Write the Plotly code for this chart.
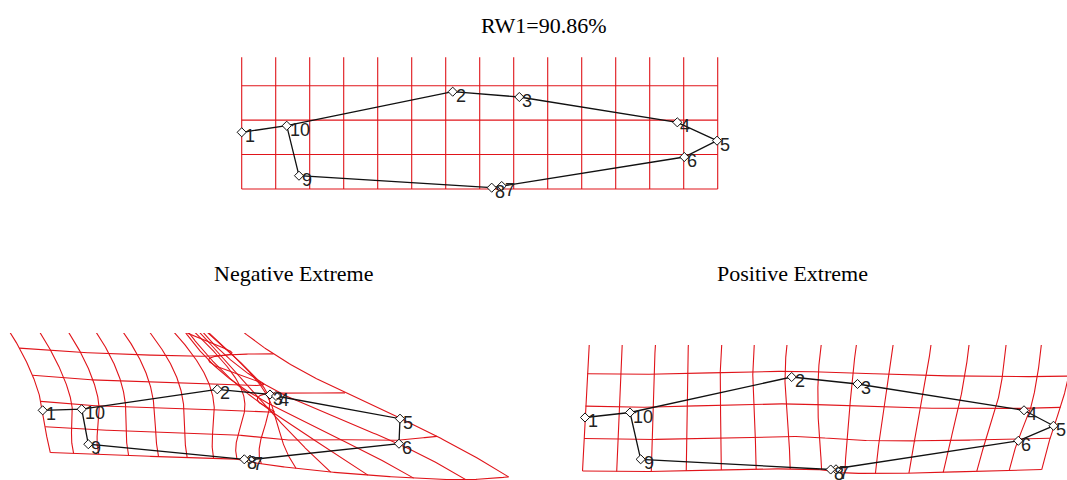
import numpy as np
import plotly.graph_objects as go

# ---------------- data (landmarks 1..10, grid-cell units, y up) ----------------
landmark_labels = ["1", "2", "3", "4", "5", "6", "7", "8", "9", "10"]

mean_x = [0.000, 6.206, 8.165, 12.812, 13.980, 13.018, 7.647, 7.353, 1.685, 1.324]
mean_y = [1.647, 2.826, 2.672, 1.937, 1.403, 0.929, 0.087, 0.038, 0.386, 1.838]

neg_x = [0.000, 5.135, 6.685, 6.862, 10.509, 10.479, 6.097, 5.929, 1.341, 1.147]
neg_y = [1.443, 2.053, 1.902, 1.859, 1.200, 0.473, 0.009, 0.020, 0.459, 1.475]

pos_x = [0.000, 6.079, 8.015, 12.912, 13.779, 12.744, 7.382, 7.226, 1.638, 1.324]
pos_y = [1.621, 2.797, 2.594, 1.830, 1.380, 0.944, 0.116, 0.110, 0.407, 1.766]

# outline links (landmark numbers)
outline_order = [1, 10, 2, 3, 4, 5, 6, 7, 8, 9, 10]

# reference grid on the consensus
grid_cols = list(range(0, 15))      # vertical lines x = 0..14
grid_rows = list(range(0, 6))       # horizontal lines y = 0..5

title_text = "RW1=90.86%"
panel_titles = ["Negative Extreme", "Positive Extreme"]

# ---------------- thin-plate spline ----------------
def tps_fit(src, dst):
    n = len(src)
    d = np.sqrt(((src[:, None, :] - src[None, :, :]) ** 2).sum(-1))
    with np.errstate(divide="ignore", invalid="ignore"):
        K = np.where(d > 0, d ** 2 * np.log(d ** 2), 0.0)
    P = np.hstack([np.ones((n, 1)), src])
    L = np.zeros((n + 3, n + 3))
    L[:n, :n] = K
    L[:n, n:] = P
    L[n:, :n] = P.T
    rhs = np.zeros((n + 3, 2))
    rhs[:n] = dst
    return np.linalg.solve(L, rhs)


def tps_apply(coef, src, pts):
    n = len(src)
    d = np.sqrt(((pts[:, None, :] - src[None, :, :]) ** 2).sum(-1))
    with np.errstate(divide="ignore", invalid="ignore"):
        U = np.where(d > 0, d ** 2 * np.log(d ** 2), 0.0)
    P = np.hstack([np.ones((len(pts), 1)), pts])
    return U @ coef[:n] + P @ coef[n:]


def grid_polylines(coef, src):
    xs, ys = [], []
    ymax = max(grid_rows)
    xmin, xmax = min(grid_cols), max(grid_cols)
    for c in grid_cols:
        t = np.linspace(0, ymax, 200)
        pts = np.column_stack([np.full_like(t, c), t])
        out = pts if coef is None else tps_apply(coef, src, pts)
        xs += list(out[:, 0]) + [None]
        ys += list(out[:, 1]) + [None]
    for r in grid_rows:
        t = np.linspace(xmin, xmax, 500)
        pts = np.column_stack([t, np.full_like(t, r)])
        out = pts if coef is None else tps_apply(coef, src, pts)
        xs += list(out[:, 0]) + [None]
        ys += list(out[:, 1]) + [None]
    return xs, ys

# ---------------- layout helpers ----------------
W, H = 1067, 480
SX, SY = 34.0, 34.43


def axes_for(box, origin):
    x0, x1, y0, y1 = box
    ox, oy = origin
    return dict(
        xdom=[x0 / W, x1 / W], ydom=[(H - y1) / H, (H - y0) / H],
        xr=[(x0 - ox) / SX, (x1 - ox) / SX], yr=[(oy - y1) / SY, (oy - y0) / SY],
    )

panels = [
    dict(x=mean_x, y=mean_y, ax=axes_for((200, 760, 57.3, 205), (241.7, 189.0)), warp=False),
    dict(x=neg_x, y=neg_y, ax=axes_for((0, 540, 333, 480), (42.7, 460.0)), warp=True),
    dict(x=pos_x, y=pos_y, ax=axes_for((560, 1067, 345, 480), (585.0, 473.3)), warp=True),
]

src = np.column_stack([mean_x, mean_y])

fig = go.Figure()
GRID_COLOR = "#e0141a"
label_font = dict(family="Liberation Sans Narrow, Arial Narrow, Liberation Sans, Arial",
                  size=18, color="#222222")

for i, p in enumerate(panels):
    sfx = "" if i == 0 else str(i + 1)
    xref, yref = "x" + sfx, "y" + sfx
    if p["warp"]:
        dst = np.column_stack([p["x"], p["y"]])
        coef = tps_fit(src, dst)
        gx, gy = grid_polylines(coef, src)
    else:
        gx, gy = grid_polylines(None, src)
    fig.add_trace(go.Scatter(x=gx, y=gy, mode="lines", xaxis=xref, yaxis=yref,
                             line=dict(color=GRID_COLOR, width=1.1), hoverinfo="skip",
                             showlegend=False))
    ox = [p["x"][k - 1] for k in outline_order]
    oy = [p["y"][k - 1] for k in outline_order]
    fig.add_trace(go.Scatter(x=ox, y=oy, mode="lines", xaxis=xref, yaxis=yref,
                             line=dict(color="#111111", width=1.3), hoverinfo="skip",
                             showlegend=False))
    fig.add_trace(go.Scatter(x=p["x"], y=p["y"], mode="markers", xaxis=xref, yaxis=yref,
                             marker=dict(symbol="diamond", size=7, color="white",
                                         line=dict(color="#111111", width=1)),
                             showlegend=False, cliponaxis=False))
    for lx, ly, lab in zip(p["x"], p["y"], landmark_labels):
        fig.add_annotation(x=lx, y=ly, xref=xref, yref=yref, text=lab, showarrow=False,
                           xanchor="left", yanchor="middle", xshift=1, yshift=-4,
                           font=label_font)
    a = p["ax"]
    fig.update_layout(**{
        "xaxis" + sfx: dict(domain=a["xdom"], range=a["xr"], visible=False, fixedrange=True,
                            anchor="y" + sfx),
        "yaxis" + sfx: dict(domain=a["ydom"], range=a["yr"], visible=False, fixedrange=True,
                            anchor="x" + sfx),
    })

serif = "Liberation Serif, Times New Roman, serif"
fig.add_annotation(x=543 / W, y=1 - 25 / H, xref="paper", yref="paper", text=title_text,
                   showarrow=False, font=dict(family=serif, size=22, color="black"),
                   xanchor="center", yanchor="middle")
for t, cx in zip(panel_titles, [293, 792]):
    fig.add_annotation(x=cx / W, y=1 - 273 / H, xref="paper", yref="paper", text=t,
                       showarrow=False, font=dict(family=serif, size=22, color="black"),
                       xanchor="center", yanchor="middle")

fig.update_layout(width=W, height=H, margin=dict(l=0, r=0, t=0, b=0),
                  paper_bgcolor="white", plot_bgcolor="white")

fig.write_html("out.html", config={"displayModeBar": False},
               post_script="document.body.style.margin='0px';")
